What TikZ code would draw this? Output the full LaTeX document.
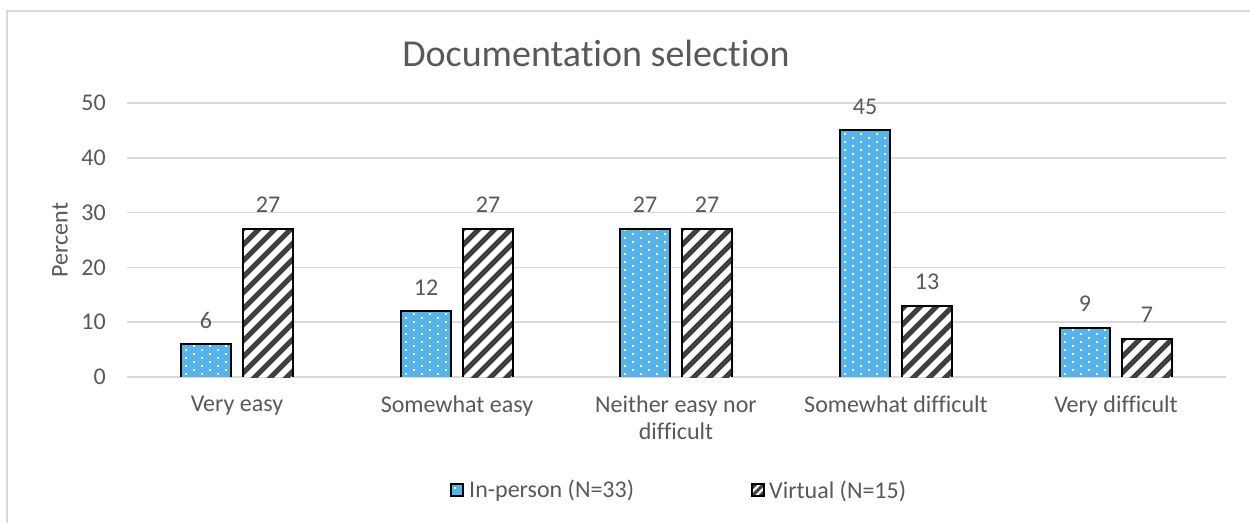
\documentclass[tikz,border=0pt]{standalone}
\usepackage{fontspec}
\setmainfont{Carlito}[Ligatures=NoCommon]
\definecolor{txtgray}{HTML}{595959}
\definecolor{gridgray}{HTML}{D9D9D9}
\definecolor{inblue}{HTML}{56B4E9}
\definecolor{hatchgray}{HTML}{404040}
\tikzset{
  gridline/.style={draw=gridgray, line width=1.5},
  barline/.style={draw=black, line width=2},
  ticklabel/.style={text=txtgray, font=\fontsize{24}{28}\selectfont, anchor=east, inner sep=0},
  vallabel/.style={text=txtgray, font=\fontsize{24}{28}\selectfont, inner sep=0},
  catlabel/.style={text=txtgray, font=\fontsize{24}{27}\selectfont, align=center, inner sep=0, anchor=north},
  legtext/.style={text=txtgray, font=\fontsize{24}{28}\selectfont, anchor=west, inner sep=0},
}
% blue bar with a staggered white dot pattern: left x, value, label name
\newcommand{\dotbar}[3]{%
  \pgfmathsetmacro\tp{377-5.48*#2}
  \begin{scope}
    \clip (#1,\tp) rectangle (#1+50,377);
    \fill[inblue] (#1,\tp) rectangle (#1+50,377);
    \foreach \j in {0,...,62}{
      \foreach \i in {0,...,3}{
        \fill[white] ({#1+4+16*\i+8*mod(\j,2)},{377-2-4*\j}) rectangle ++(2.2,-2.2);
      }
    }
  \end{scope}
  \draw[barline] (#1,377) -- (#1,\tp) -- (#1+50,\tp) -- (#1+50,377);
  \node[vallabel] (#3) at (#1+25,\tp-24) {#2};
}
% white bar with dark upward diagonal hatching: left x, value, label name
\newcommand{\hatchbar}[3]{%
  \pgfmathsetmacro\tp{377-5.48*#2}
  \begin{scope}
    \clip (#1,\tp) rectangle (#1+50,377);
    \fill[white] (#1,\tp) rectangle (#1+50,377);
    \foreach \k in {0,...,21}{
      \draw[hatchgray, line width=5] ({#1-280+16*\k},381) -- ++(300,-300);
    }
  \end{scope}
  \draw[barline] (#1,377) -- (#1,\tp) -- (#1+50,\tp) -- (#1+50,377);
  \node[vallabel] (#3) at (#1+25,\tp-24) {#2};
}
\begin{document}
\begin{tikzpicture}[x=1pt,y=-1pt]
  \useasboundingbox (0,0) rectangle (1250,523);
  \fill[white] (0,0) rectangle (1250,523);
  % chart frame
  \draw[gridgray, line width=1.8] (7,523) -- (7,11) -- (1250,11);
  % title
  \node[text=txtgray, font=\fontsize{38}{40}\selectfont, inner sep=0] (title) at (596,53) {Documentation selection};
  % gridlines and tick labels
  \foreach \v in {0,10,...,50}{
    \draw[gridline] (127,{377-5.48*\v}) -- (1226,{377-5.48*\v});
    \node[ticklabel] (tick\v) at (106,{377-5.48*\v}) {\v};
  }
  % axis title
  \node[text=txtgray, font=\fontsize{24}{28}\selectfont, rotate=90, inner sep=0] (ytitle) at (60,240) {Percent};
  % bars
  \dotbar{181}{6}{a1}
  \hatchbar{243}{27}{b1}
  \dotbar{401}{12}{a2}
  \hatchbar{463}{27}{b2}
  \dotbar{620}{27}{a3}
  \hatchbar{682}{27}{b3}
  \dotbar{840}{45}{a4}
  \hatchbar{902}{13}{b4}
  \dotbar{1060}{9}{a5}
  \hatchbar{1122}{7}{b5}
  % category labels
  \node[catlabel] (c1) at (237,396) {Very easy};
  \node[catlabel] (c2) at (457,396) {Somewhat easy};
  \node[catlabel] (c3) at (676,396) {Neither easy nor\\difficult};
  \node[catlabel] (c4) at (896,396) {Somewhat difficult};
  \node[catlabel] (c5) at (1116,396) {Very difficult};
  % legend
  \fill[inblue] (451,484) rectangle (463,496);
  \fill[white] (454,487) rectangle (456.4,489.4);
  \draw[black, line width=1.8] (451,484) rectangle (463,496);
  \node[legtext] (l1) at (469,491) {In-person (N=33)};
  \begin{scope}
    \clip (752,484) rectangle (764,496);
    \foreach \k in {0,...,3}{
      \draw[hatchgray, line width=3] ({740+8*\k},500) -- ++(20,-20);
    }
  \end{scope}
  \draw[black, line width=1.8] (752,484) rectangle (764,496);
  \node[legtext] (l2) at (769,491) {Virtual (N=15)};
\end{tikzpicture}
\end{document}
